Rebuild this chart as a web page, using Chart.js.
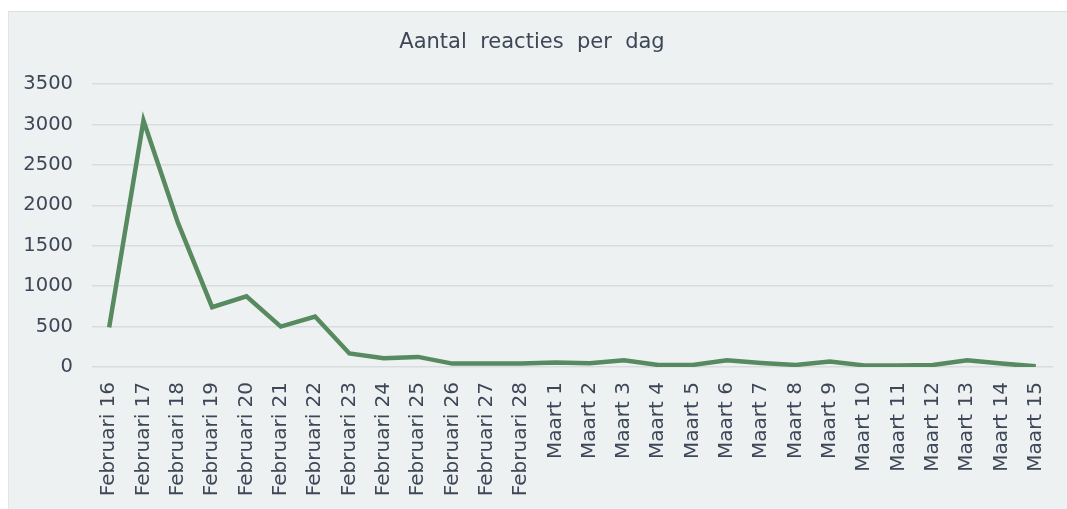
<!DOCTYPE html>
<html>
<head>
<meta charset="utf-8">
<script src="https://cdn.jsdelivr.net/npm/chart.js@4"></script>
<style>
  html, body { margin: 0; padding: 0; background: #ffffff; }
  #paneel {
    position: absolute; left: 8px; top: 11px; width: 1059px; height: 498px;
    background: #eef1f2; border-top: 1px solid #dcdfe0; border-left: 1px solid #e2e5e6;
    box-sizing: border-box;
  }
</style>
</head>
<body>
<div id="paneel"><canvas id="grafiekReacties"></canvas></div>
<script>
const dagen = [
  'Februari 16', 'Februari 17', 'Februari 18', 'Februari 19', 'Februari 20', 'Februari 21',
  'Februari 22', 'Februari 23', 'Februari 24', 'Februari 25', 'Februari 26', 'Februari 27',
  'Februari 28', 'Maart 1', 'Maart 2', 'Maart 3', 'Maart 4', 'Maart 5', 'Maart 6', 'Maart 7',
  'Maart 8', 'Maart 9', 'Maart 10', 'Maart 11', 'Maart 12', 'Maart 13', 'Maart 14', 'Maart 15'
];
const reacties = [
  490, 3050, 1790, 740, 875, 500, 625, 167, 108, 125, 42, 42, 42, 55,
  45, 83, 25, 25, 83, 50, 25, 67, 20, 20, 25, 83, 42, 8
];
const yTicks = [0, 500, 1000, 1500, 2000, 2500, 3000, 3500];

const tekstKleur = '#3d4757';
Chart.defaults.font.family = '"DejaVu Sans", Verdana, sans-serif';

const canvas = document.querySelector('#grafiekReacties');
canvas.width = 1058;
canvas.height = 497;

const grafiek = new Chart(canvas, {
  type: 'line',
  data: {
    labels: dagen,
    datasets: [{
      label: 'Aantal reacties',
      data: reacties,
      borderColor: '#588a60',
      borderWidth: 4.5,
      pointRadius: 0,
      tension: 0,
      borderJoinStyle: 'miter'
    }]
  },
  options: {
    responsive: false,
    animation: false,
    layout: { padding: { left: 0, right: 12, top: 0, bottom: 0 } },
    plugins: {
      legend: { display: false },
      tooltip: { enabled: false },
      title: {
        display: true,
        text: 'Aantal  reacties  per  dag',
        color: tekstKleur,
        font: { size: 21, weight: 'normal' },
        padding: { top: 18, bottom: 29 }
      }
    },
    scales: {
      x: {
        offset: true,
        grid: { display: false },
        border: { display: false },
        ticks: {
          color: tekstKleur,
          font: { size: 20 },
          minRotation: 90,
          maxRotation: 90,
          autoSkip: false,
          padding: 7
        },
        afterFit: s => { s.height = 142; }
      },
      y: {
        min: 0,
        max: 3500,
        afterBuildTicks: s => { s.ticks = yTicks.map(v => ({ value: v })); },
        grid: { color: '#d9dcde', lineWidth: 1.5, drawTicks: false },
        border: { display: false },
        ticks: {
          color: tekstKleur,
          font: { size: 19.5 },
          padding: 19,
          callback: v => String(v)
        },
        afterFit: s => { s.width = 83; }
      }
    }
  }
});
</script>
</body>
</html>
